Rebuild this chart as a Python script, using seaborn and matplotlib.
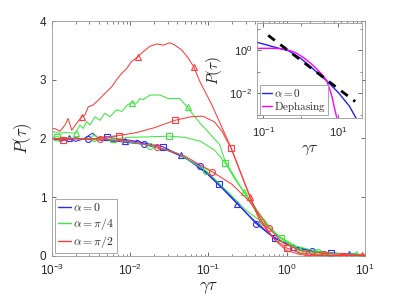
import pandas as pd
import seaborn as sns
import matplotlib.pyplot as plt
from matplotlib.lines import Line2D
from matplotlib.ticker import LogLocator, NullFormatter

# ---- main panel data (gamma*tau, P(tau)) ----
blue_o_x = [0.001, 0.00288, 0.006, 0.015, 0.03, 0.05, 0.078, 0.12, 0.2, 0.3, 0.407, 0.6, 1.0, 1.5, 2.12, 3.5, 6, 10]
blue_o_y = [2.0, 1.99, 1.96, 1.90, 1.80, 1.67, 1.53, 1.30, 1.0, 0.74, 0.55, 0.37, 0.20, 0.12, 0.09, 0.05, 0.03, 0.02]
blue_o_mx = [0.00288, 0.015, 0.0781, 0.407, 2.12]
blue_o_my = [1.99, 1.90, 1.53, 0.55, 0.09]

blue_s_x = [0.001, 0.0015, 0.002, 0.003, 0.005, 0.007, 0.01, 0.026, 0.05, 0.1, 0.1355, 0.2, 0.35, 0.705, 1.2, 2, 3.67, 10]
blue_s_y = [2.0, 1.97, 2.01, 1.98, 2.03, 1.99, 1.97, 1.86, 1.68, 1.38, 1.22, 0.98, 0.65, 0.30, 0.16, 0.09, 0.045, 0.02]
blue_s_mx = [0.005, 0.026, 0.1355, 0.705, 3.67]
blue_s_my = [2.03, 1.86, 1.22, 0.30, 0.045]

blue_t_x = [0.001, 0.0013, 0.00166, 0.002, 0.0025, 0.0033, 0.0042, 0.005, 0.006, 0.0072, 0.0087, 0.0105,
            0.0125, 0.015, 0.02, 0.03, 0.045, 0.08, 0.15, 0.235, 0.4, 0.7, 1.22, 2, 3.5, 6.36, 10]
blue_t_y = [2.0, 1.95, 2.01, 1.95, 1.99, 2.09, 1.97, 2.0, 1.94, 1.98, 1.96, 1.93, 1.97, 1.90, 1.86, 1.80,
            1.71, 1.50, 1.15, 0.89, 0.57, 0.30, 0.16, 0.09, 0.05, 0.035, 0.02]
blue_t_mx = [0.00166, 0.0087, 0.0451, 0.2347, 1.22, 6.36]
blue_t_my = [2.01, 1.96, 1.71, 0.89, 0.16, 0.035]

green_o_x = [0.001, 0.00347, 0.008, 0.018, 0.04, 0.094, 0.2, 0.3, 0.489, 0.8, 1.3, 2.54, 5, 10]
green_o_y = [2.0, 2.0, 1.96, 1.88, 1.75, 1.45, 1.02, 0.78, 0.57, 0.33, 0.17, 0.07, 0.03, 0.02]
green_o_mx = [0.00347, 0.018, 0.0938, 0.489, 2.54]
green_o_my = [2.0, 1.88, 1.45, 0.57, 0.07]

green_s_x = [0.001, 0.00115, 0.002, 0.003, 0.006, 0.01, 0.02, 0.0313, 0.05, 0.08, 0.12, 0.163, 0.22, 0.3,
             0.45, 0.6, 0.847, 1.3, 2, 4.41, 10]
green_s_y = [2.02, 2.03, 2.0, 1.98, 1.99, 2.02, 2.03, 2.04, 2.02, 1.95, 1.80, 1.59, 1.30, 1.05,
             0.72, 0.50, 0.30, 0.12, 0.04, 0.005, 0.003]
green_s_mx = [0.00115, 0.006, 0.0313, 0.1627, 0.847, 4.41]
green_s_my = [2.03, 1.99, 2.04, 1.59, 0.30, 0.005]

green_t_x = [0.001, 0.00126, 0.00147, 0.0020, 0.00228, 0.00251, 0.00277, 0.00306, 0.00355, 0.0041, 0.00475,
             0.0055, 0.0067, 0.0078, 0.0092, 0.0104, 0.0121, 0.0133, 0.0147, 0.0179, 0.024, 0.0306, 0.043,
             0.054, 0.078, 0.095, 0.14, 0.163, 0.282, 0.5, 0.86, 1.47, 3, 7.64, 10]
green_t_y = [2.12, 2.09, 2.10, 2.09, 2.23, 2.17, 2.29, 2.23, 2.37, 2.31, 2.43,
             2.37, 2.49, 2.46, 2.57, 2.61, 2.60, 2.68, 2.66, 2.74, 2.74, 2.68, 2.68,
             2.53, 2.26, 2.14, 1.89, 1.62, 1.09, 0.56, 0.30, 0.10, 0.04, 0.03, 0.02]
green_t_mx = [0.0020, 0.0104, 0.0542, 0.282, 1.47, 7.64]
green_t_my = [2.09, 2.61, 2.53, 1.09, 0.10, 0.03]

red_o_x = [0.001, 0.00416, 0.01, 0.0217, 0.05, 0.1127, 0.2, 0.34, 0.45, 0.587, 0.9, 1.5, 3.05, 6, 10]
red_o_y = [2.0, 1.99, 1.95, 1.86, 1.70, 1.43, 1.22, 0.92, 0.70, 0.48, 0.22, 0.09, 0.04, 0.02, 0.015]
red_o_mx = [0.00416, 0.0217, 0.1127, 0.587, 3.05]
red_o_my = [1.99, 1.86, 1.43, 0.48, 0.04]

red_s_x = [0.001, 0.00139, 0.002, 0.003, 0.0045, 0.0072, 0.012, 0.02, 0.0375, 0.06, 0.085, 0.12, 0.15,
           0.17, 0.195, 0.3, 0.45, 0.7, 1.017, 1.5, 2.5, 5.29, 10]
red_s_y = [2.0, 1.97, 2.01, 1.98, 2.02, 2.05, 2.10, 2.18, 2.31, 2.37, 2.38, 2.28, 2.12,
           1.98, 1.84, 1.20, 0.60, 0.28, 0.13, 0.05, 0.015, 0.005, 0.003]
red_s_mx = [0.00139, 0.0072, 0.0375, 0.1954, 1.017, 5.29]
red_s_my = [1.97, 2.05, 2.31, 1.84, 0.13, 0.005]

red_t_x = [0.001, 0.00109, 0.00126, 0.00147, 0.00161, 0.00179, 0.00207, 0.0024, 0.00264, 0.00291, 0.00337,
           0.0041, 0.00453, 0.0058, 0.0067, 0.0078, 0.0090, 0.0104, 0.0125, 0.0147, 0.0179, 0.0218, 0.0265,
           0.0322, 0.0373, 0.0454, 0.0552, 0.065, 0.0778, 0.111, 0.195, 0.339, 0.483, 0.708, 1.0, 1.48,
           1.76, 3, 10]
red_t_y = [2.16, 2.17, 2.12, 2.23, 2.34, 2.14, 2.26, 2.37, 2.40, 2.54, 2.57,
           2.68, 2.74, 2.88, 3.0, 3.11, 3.19, 3.31, 3.39, 3.48, 3.57, 3.61, 3.59,
           3.63, 3.59, 3.51, 3.37, 3.22, 2.97, 2.57, 1.84, 1.0, 0.58, 0.27, 0.09, 0.025,
           0.01, 0.005, 0.004]
red_t_mx = [0.0024, 0.0125, 0.065, 0.339, 1.76, 9.17]
red_t_my = [2.37, 3.39, 3.22, 1.0, 0.01, 0.01]

# ---- inset data ----
inset_blue_x = [0.069, 0.1, 0.15, 0.25, 0.47, 1.0, 2.0, 5.0, 10, 20, 30]
inset_blue_y = [2.3, 1.95, 1.6, 1.25, 0.95, 0.42, 0.15, 0.037, 0.011, 0.0025, 0.0007]
inset_deph_x = [0.069, 0.15, 0.25, 0.35, 0.47, 0.7, 1.2, 2.0, 3.0, 4.0, 5.0, 6.0, 7.0, 8.0, 9.3]
inset_deph_y = [1.22, 1.22, 1.2, 1.12, 1.0, 0.8, 0.45, 0.22, 0.11, 0.065, 0.037, 0.015, 0.006, 0.002, 0.0007]
inset_fit_x = [0.136, 28.5]
inset_fit_y = [4.9, 0.0041]

BLUE = '#2b2bff'
GREEN = '#3de83d'
RED = '#ff3b3b'
MAGENTA = '#ff00ff'


def draw_curve(ax, x, y, mx, my, color, marker, msize):
    sns.lineplot(x=x, y=y, ax=ax, color=color, lw=0.75, sort=False, estimator=None)
    sns.lineplot(x=mx, y=my, ax=ax, color=color, linestyle='none', marker=marker,
                 markersize=msize, markerfacecolor='none', markeredgecolor=color,
                 markeredgewidth=0.8, sort=False, estimator=None)


def style_axes(ax, labelsize):
    ax.tick_params(which='both', direction='in', top=True, right=True, colors='#555555',
                   labelcolor='#262626', labelsize=labelsize)
    ax.tick_params(which='major', length=3, width=0.6)
    ax.tick_params(which='minor', length=1.8, width=0.5)
    for s in ax.spines.values():
        s.set_color('#999999')
        s.set_linewidth(0.6)


def main():
    sns.set_style('ticks')
    plt.rcParams['font.family'] = ['Liberation Sans', 'DejaVu Sans']
    plt.rcParams['mathtext.fontset'] = 'cm'

    fig = plt.figure(figsize=(3.95, 3.05), dpi=100)
    ax = fig.add_axes([0.1316, 0.161, 0.792, 0.770])

    curves = [
        (blue_o_x, blue_o_y, blue_o_mx, blue_o_my, BLUE, 'o', 4.3),
        (blue_s_x, blue_s_y, blue_s_mx, blue_s_my, BLUE, 's', 3.8),
        (blue_t_x, blue_t_y, blue_t_mx, blue_t_my, BLUE, '^', 4.4),
        (green_o_x, green_o_y, green_o_mx, green_o_my, GREEN, 'o', 4.3),
        (green_s_x, green_s_y, green_s_mx, green_s_my, GREEN, 's', 3.8),
        (green_t_x, green_t_y, green_t_mx, green_t_my, GREEN, '^', 4.4),
        (red_o_x, red_o_y, red_o_mx, red_o_my, RED, 'o', 4.3),
        (red_s_x, red_s_y, red_s_mx, red_s_my, RED, 's', 3.8),
        (red_t_x, red_t_y, red_t_mx, red_t_my, RED, '^', 4.4),
    ]
    for c in curves:
        draw_curve(ax, *c)

    ax.set_xscale('log')
    ax.set_xlim(1e-3, 1e1)
    ax.set_ylim(0, 4)
    ax.set_yticks([0, 1, 2, 3, 4])
    ax.xaxis.set_major_locator(LogLocator(base=10, numticks=10))
    ax.xaxis.set_minor_locator(LogLocator(base=10, subs=range(2, 10), numticks=50))
    ax.xaxis.set_minor_formatter(NullFormatter())
    style_axes(ax, 8.5)
    ax.tick_params(axis='x', which='major', pad=5)
    ax.tick_params(axis='y', which='major', pad=4)
    ax.set_xlabel(r'$\gamma\tau$', fontsize=12, labelpad=1)
    ax.set_ylabel(r'$P(\tau)$', fontsize=12, labelpad=4)

    handles = [Line2D([], [], color=BLUE, lw=1.0), Line2D([], [], color=GREEN, lw=1.0),
               Line2D([], [], color=RED, lw=1.0)]
    labels = [r'$\alpha=0$', r'$\alpha=\pi/4$', r'$\alpha=\pi/2$']
    leg = ax.legend(handles, labels, loc='lower left', fontsize=8.5, handlelength=1.1,
                    handletextpad=0.2, borderpad=0.25, labelspacing=0.15, borderaxespad=0.25,
                    fancybox=False, framealpha=1)
    leg.get_frame().set_edgecolor('#999999')
    leg.get_frame().set_linewidth(0.6)

    # ---- inset ----
    ins = fig.add_axes([0.651, 0.613, 0.266, 0.311])
    sns.lineplot(x=inset_blue_x, y=inset_blue_y, ax=ins, color='#1f1fff', lw=1.0,
                 sort=False, estimator=None, label=r'$\alpha=0$')
    sns.lineplot(x=inset_deph_x, y=inset_deph_y, ax=ins, color=MAGENTA, lw=1.0,
                 sort=False, estimator=None, label=r'$\mathrm{Dephasing}$')
    sns.lineplot(x=inset_fit_x, y=inset_fit_y, ax=ins, color='black', lw=2.0,
                 linestyle=(0, (3, 2.5)), sort=False, estimator=None)
    ins.set_xscale('log')
    ins.set_yscale('log')
    ins.set_xlim(0.069, 44)
    ins.set_ylim(7e-4, 18)
    ins.set_xticks([1e-1, 1e1])
    ins.set_yticks([1e-2, 1e0])
    ins.xaxis.set_minor_locator(LogLocator(base=10, subs=(1.0,), numticks=20))
    ins.yaxis.set_minor_locator(LogLocator(base=10, subs=(1.0,), numticks=20))
    ins.xaxis.set_minor_formatter(NullFormatter())
    ins.yaxis.set_minor_formatter(NullFormatter())
    style_axes(ins, 8)
    ins.tick_params(axis='x', which='major', pad=5)
    ins.set_xlabel(r'$\gamma\tau$', fontsize=11, labelpad=3)
    ins.set_ylabel(r'$P(\tau)$', fontsize=11, labelpad=4)
    ileg = ins.legend(loc='lower left', fontsize=8, handlelength=0.9, handletextpad=0.2,
                      borderpad=0.15, labelspacing=0.05, borderaxespad=0.25, fancybox=False,
                      framealpha=1)
    ileg.get_frame().set_edgecolor('#999999')
    ileg.get_frame().set_linewidth(0.6)

    fig.savefig('out.png', dpi=100)
    plt.close(fig)


if __name__ == '__main__':
    main()
